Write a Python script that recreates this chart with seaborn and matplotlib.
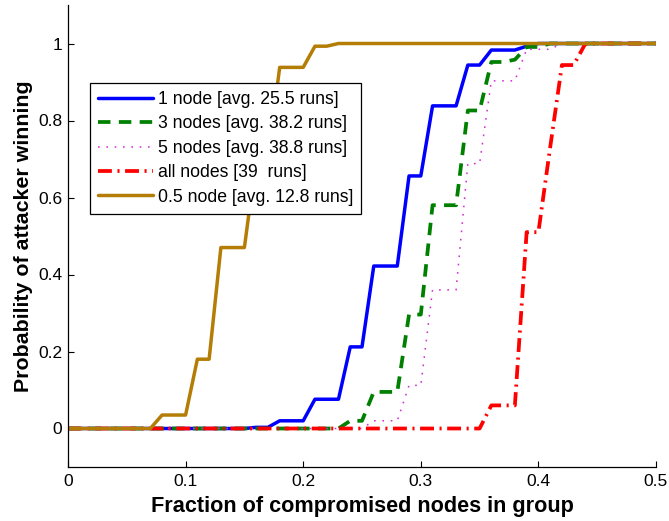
import numpy as np
import pandas as pd
import matplotlib
matplotlib.use("Agg")
import matplotlib.pyplot as plt
import seaborn as sns

# Fraction of compromised nodes (sampled every 0.01 from 0 to 0.5)
fraction = np.round(np.arange(0, 0.501, 0.01), 2)

# Probability of the attacker winning, one list per configuration
p_1_node = [0]*16 + [0.003, 0.003, 0.02, 0.02, 0.02, 0.076, 0.076, 0.076,
            0.212, 0.212, 0.422, 0.422, 0.422, 0.656, 0.656, 0.838, 0.838,
            0.838, 0.944, 0.944, 0.983, 0.983, 0.983, 0.993] + [1.0]*11
p_3_nodes = [0]*24 + [0.02, 0.02, 0.095, 0.095, 0.095, 0.296, 0.296, 0.58,
             0.58, 0.58, 0.826, 0.826, 0.952, 0.952, 0.958, 0.991,
             0.991] + [1.0]*10
p_5_nodes = [0]*26 + [0.02, 0.02, 0.02, 0.112, 0.112, 0.36, 0.36, 0.36,
             0.688, 0.688, 0.903, 0.903, 0.903, 0.985, 0.985,
             0.985] + [1.0]*9
p_all_nodes = [0]*36 + [0.06, 0.06, 0.06, 0.51, 0.51, 0.73, 0.944,
               0.944] + [1.0]*7
p_half_node = [0]*8 + [0.035, 0.035, 0.035, 0.18, 0.18, 0.47, 0.47, 0.47,
               0.70, 0.70, 0.938, 0.938, 0.938, 0.993, 0.993] + [1.0]*28

labels = ["1 node [avg. 25.5 runs]",
          "3 nodes [avg. 38.2 runs]",
          "5 nodes [avg. 38.8 runs]",
          "all nodes [39  runs]",
          "0.5 node [avg. 12.8 runs]"]

x_ticks = [0, 0.1, 0.2, 0.3, 0.4, 0.5]
x_tick_labels = ["0", "0.1", "0.2", "0.3", "0.4", "0.5"]
y_ticks = [0, 0.2, 0.4, 0.6, 0.8, 1.0]
y_tick_labels = ["0", "0.2", "0.4", "0.6", "0.8", "1"]

sns.set_style("ticks")
plt.rcParams["font.family"] = ["Liberation Sans", "DejaVu Sans"]
plt.rcParams["lines.scale_dashes"] = False
plt.rcParams["text.color"] = "black"
plt.rcParams["axes.labelcolor"] = "black"

fig = plt.figure(figsize=(6.69, 5.21), dpi=100)
ax = fig.add_axes([68/669, 1 - 467/521, 588/669, 462/521])

series = [p_1_node, p_3_nodes, p_5_nodes, p_all_nodes, p_half_node]
styles = [
    dict(color="#0000ff", linewidth=2.5, linestyle="-"),
    dict(color="#008000", linewidth=2.7, linestyle=(0, (9, 6))),
    dict(color="#d22fd2", linewidth=1.1, linestyle=(0, (1.2, 4.8))),
    dict(color="#ff0000", linewidth=2.7, linestyle=(0, (10, 4, 1.5, 4))),
    dict(color="#b47d05", linewidth=2.5, linestyle="-"),
]

for vals, lab, st in zip(series, labels, styles):
    df = pd.DataFrame({"fraction": fraction, "prob": vals})
    sns.lineplot(data=df, x="fraction", y="prob", ax=ax, label=lab,
                 estimator=None, errorbar=None, **st)

ax.set_xlim(0, 0.5)
ax.set_ylim(-0.1, 1.1)
ax.set_xticks(x_ticks)
ax.set_xticklabels(x_tick_labels)
ax.set_yticks(y_ticks)
ax.set_yticklabels(y_tick_labels)
ax.tick_params(direction="in", length=4, width=0.8, labelsize=12.5,
               colors="black")
ax.tick_params(axis="y", pad=4)
ax.tick_params(axis="x", pad=5)
for side in ("top", "right"):
    ax.spines[side].set_visible(False)
for side in ("left", "bottom"):
    ax.spines[side].set_linewidth(0.9)
    ax.spines[side].set_color("black")

ax.set_xlabel("Fraction of compromised nodes in group", fontsize=15.6,
              fontweight="bold", labelpad=5)
ax.set_ylabel("Probability of attacker winning", fontsize=15.4,
              fontweight="bold", labelpad=4)

leg = ax.legend(loc="upper left", bbox_to_anchor=(22/588, (467-83)/462),
                borderaxespad=0, fontsize=12.7, frameon=True, fancybox=False,
                edgecolor="black", framealpha=1, handlelength=3.1,
                handletextpad=0.3, labelspacing=0.42, borderpad=0.45)
leg.get_frame().set_linewidth(0.9)

fig.savefig("out.png", dpi=100)
